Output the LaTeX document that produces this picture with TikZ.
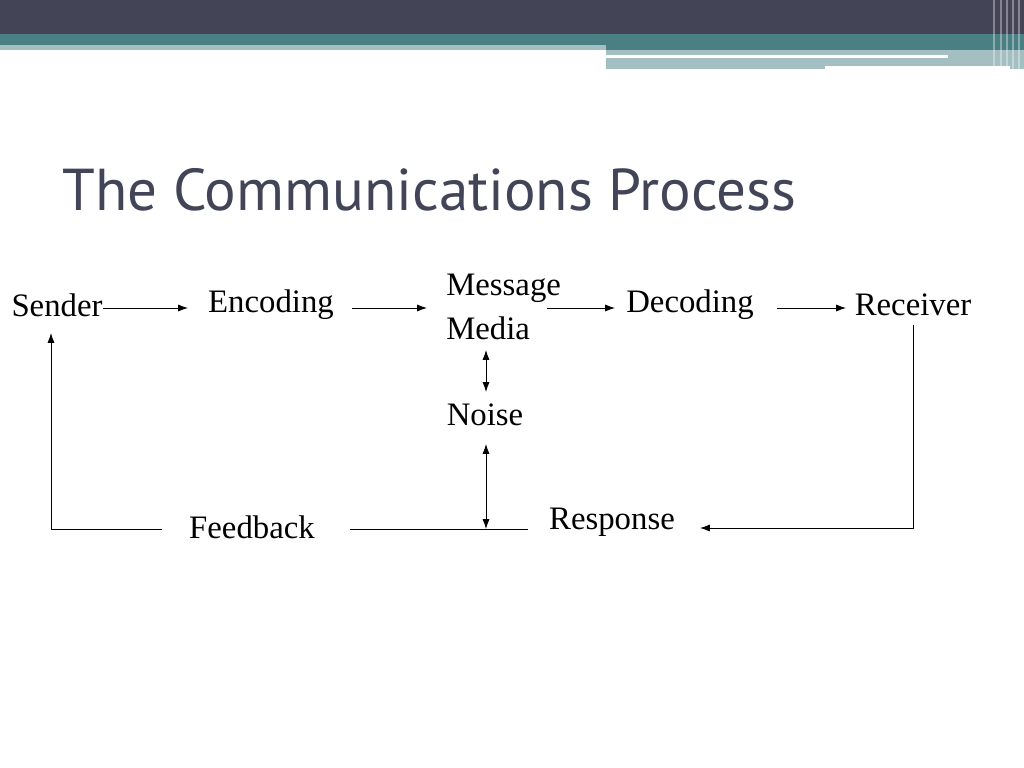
\documentclass[tikz,border=0pt]{standalone}
\usepackage{fontspec}
\setmainfont{Liberation Serif}
\newfontfamily\titlefont{PT Sans}
\usetikzlibrary{arrows.meta}
\definecolor{barDark}{HTML}{434456}
\definecolor{barTeal}{HTML}{4A8083}
\definecolor{barLight}{HTML}{A3BFC1}
\definecolor{titleGrey}{HTML}{424558}
\tikzset{
  lbl/.style={inner sep=0pt, font=\fontsize{23.3}{26}\selectfont},
  flow/.style={-{Latex[length=7pt,width=5pt]}, line width=0.6pt},
  both/.style={{Latex[length=7pt,width=5pt]}-{Latex[length=7pt,width=5pt]}, line width=0.6pt},
  plain/.style={line width=0.6pt}
}
\begin{document}
\begin{tikzpicture}[x=0.025cm, y=-0.025cm, line join = round]
  \useasboundingbox (0,0) rectangle (1024,768);
  % header bars
  \fill[barDark] (0,0) rectangle (1024,34);
  \fill[barTeal] (0,34) rectangle (1024,50);
  \fill[barLight] (0,45) rectangle (606,50);
  \fill[barLight] (606,50) rectangle (1024,69);
  \fill[white] (606,55) rectangle (948,58);
  \fill[white] (825,66) rectangle (1010,69);
  \foreach \x in {993,1000,1006,1012,1018}
    \fill[white, opacity=0.35] (\x,0) rectangle (\x+2,69);
  \node[anchor=west, inner sep=0pt, text=titleGrey, font=\titlefont\fontsize{42}{46}\selectfont] (title) at (62,190) {The Communications Process};
  % nodes
  \node[lbl] (sender) at (57,305) {Sender};
  \node[lbl] (encoding) at (271,305) {Encoding};
  \node[lbl, anchor=west] (message) at (446,288) {Message};
  \node[lbl, anchor=west] (media) at (446,328) {Media};
  \node[lbl] (decoding) at (690,305) {Decoding};
  \node[lbl] (receiver) at (913,305) {Receiver};
  \node[lbl] (noise) at (485,415) {Noise};
  \node[lbl] (feedback) at (252,527) {Feedback};
  \node[lbl] (response) at (612,522) {Response};
  \coordinate (sE) at (103,308);  \coordinate (eW) at (188,308);
  \coordinate (eE) at (352,308);  \coordinate (mW) at (427,308);
  \coordinate (mE) at (547,308);  \coordinate (dW) at (615,308);
  \coordinate (dE) at (777,308);  \coordinate (rW) at (846,308);
  \coordinate (rS) at (913,325);  \coordinate (rC) at (913,528);
  \coordinate (rsE) at (700,528);
  \coordinate (fbE) at (350,529); \coordinate (rsW) at (528,529);
  \coordinate (nB) at (486,529);
  \coordinate (fbW) at (162,529); \coordinate (sC) at (51,529);
  \coordinate (sS) at (51,333);
  % connectors
  \draw[flow] (sE) -- (eW);
  \draw[flow] (eE) -- (mW);
  \draw[flow] (mE) -- (dW);
  \draw[flow] (dE) -- (rW);
  \draw[flow] (rS) -- (rC) -- (rsE);
  \draw[plain] (fbE) -- (rsW);
  \draw[both] (486,350) -- (486,392);
  \draw[both] (486,444) -- (nB);
  \draw[flow] (fbW) -- (sC) -- (sS);
\end{tikzpicture}
\end{document}
